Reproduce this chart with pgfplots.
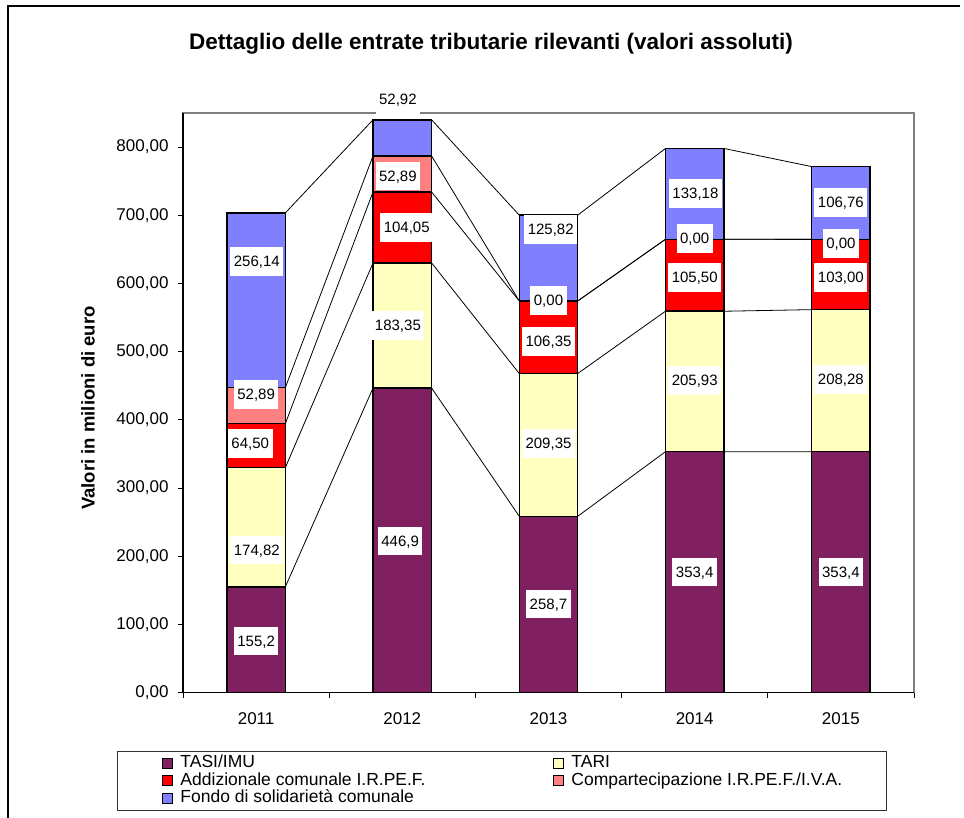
\documentclass[border=0pt]{standalone}
\usepackage{fontspec}
\setmainfont{Liberation Sans}
\usepackage{pgfplots}
\pgfplotsset{compat=1.18}
\definecolor{cTasi}{RGB}{128,32,96}
\definecolor{cTari}{RGB}{255,255,192}
\definecolor{cAdd}{RGB}{255,0,0}
\definecolor{cComp}{RGB}{255,128,128}
\definecolor{cFondo}{RGB}{128,128,255}
\definecolor{frameGray}{RGB}{128,128,128}
\pgfplotsset{
  base/.style={at={(183pt,-692.7pt)}, anchor=south west, scale only axis,
    width=731pt, height=579.7pt, xmin=-0.5, xmax=4.5, ymin=0, ymax=850},
}
\begin{document}
\begin{tikzpicture}
\path[use as bounding box] (0pt,0pt) rectangle (964pt,-818pt);
\draw[line width=1.5pt] (8pt,-818pt) -- (8pt,-6pt) -- (960pt,-6pt);
\node[font=\bfseries\fontsize{22.5}{26}\selectfont] at (491pt,-44pt) {Dettaglio delle entrate tributarie rilevanti (valori assoluti)};
\node[font=\bfseries\fontsize{18.5}{22}\selectfont, rotate=90] at (88pt,-408pt) {Valori in milioni di euro};

% series lines and grey frame
\begin{axis}[base, axis line style={draw=frameGray, line width=1.3pt},
  xtick=\empty, ytick=\empty, unbounded coords=jump]
\addplot[black, line width=0.8pt] coordinates {(0.2,155.2) (0.8,446.9) (1,nan) (1.2,446.9) (1.8,258.7) (2,nan) (2.2,258.7) (2.8,353.4) (3,nan) (3.2,353.4) (3.8,353.4)};
\addplot[black, line width=0.8pt] coordinates {(0.2,330.02) (0.8,630.25) (1,nan) (1.2,630.25) (1.8,468.05) (2,nan) (2.2,468.05) (2.8,559.33) (3,nan) (3.2,559.33) (3.8,561.68)};
\addplot[black, line width=0.8pt] coordinates {(0.2,394.52) (0.8,734.30) (1,nan) (1.2,734.30) (1.8,574.40) (2,nan) (2.2,574.40) (2.8,664.83) (3,nan) (3.2,664.83) (3.8,664.68)};
\addplot[black, line width=0.8pt] coordinates {(0.2,447.41) (0.8,787.19) (1,nan) (1.2,787.19) (1.8,574.40) (2,nan) (2.2,574.40) (2.8,664.83) (3,nan) (3.2,664.83) (3.8,664.68)};
\addplot[black, line width=0.8pt] coordinates {(0.2,703.55) (0.8,840.11) (1,nan) (1.2,840.11) (1.8,700.22) (2,nan) (2.2,700.22) (2.8,798.01) (3,nan) (3.2,798.01) (3.8,771.44)};
\end{axis}

% bars, axes, legend
\begin{axis}[base, ybar stacked, bar width=0.4,
  axis lines*=left, axis line style={line width=1.3pt},
  tick align=outside, major tick length=5pt,
  tick style={black, line width=1pt},
  ytick={0,100,...,800},
  scaled y ticks=false,
  /pgf/number format/fixed, /pgf/number format/fixed zerofill,
  /pgf/number format/precision=2, /pgf/number format/use comma,
  /pgf/number format/1000 sep={}, /pgf/number format/assume math mode=true,
  tick label style={font=\fontsize{17}{20}\selectfont},
  yticklabel style={xshift=-6pt},
  xtick={-0.5,0.5,...,4.5}, xticklabels={},
  extra x ticks={0,1,2,3,4},
  extra x tick labels={2011,2012,2013,2014,2015},
  extra x tick style={major tick length=0pt, xticklabel style={yshift=-16pt}},
  legend columns=2,
  legend cell align=left,
  legend image code/.code={\draw[#1, draw=black, line width=1pt] (0pt,-5pt) rectangle (10pt,5pt);},
  legend style={at={(-0.0903,-0.1006)}, anchor=north west, draw=black!80, line width=1pt,
    inner xsep=45pt, inner ysep=3pt, row sep=0pt, column sep=0pt,
    font=\fontsize{17.5}{20}\selectfont,
    nodes={inner xsep=7pt, inner ysep=1pt, text height=12pt, text depth=3.5pt}},
]
\addplot[fill=cTasi, draw=black, line width=1.5pt] coordinates {(0,155.2) (1,446.9) (2,258.7) (3,353.4) (4,353.4)};
\addplot[fill=cTari, draw=black, line width=1.5pt] coordinates {(0,174.82) (1,183.35) (2,209.35) (3,205.93) (4,208.28)};
\addplot[fill=cAdd, draw=black, line width=1.5pt] coordinates {(0,64.50) (1,104.05) (2,106.35) (3,105.50) (4,103.00)};
\addplot[fill=cComp, draw=black, line width=1.5pt] coordinates {(0,52.89) (1,52.89) (2,0) (3,0) (4,0)};
\addplot[fill=cFondo, draw=black, line width=1.5pt] coordinates {(0,256.14) (1,52.92) (2,125.82) (3,133.18) (4,106.76)};
\legend{\makebox[366pt][l]{TASI/IMU}, \makebox[263pt][l]{TARI},
  \makebox[366pt][l]{Addizionale comunale I.R.PE.F.}, \makebox[263pt][l]{Compartecipazione I.R.PE.F./I.V.A.},
  \makebox[366pt][l]{Fondo di solidarietà comunale}}
\end{axis}

% data labels
\begin{axis}[base, hide axis, clip=false]
\addplot[draw=none, mark=none, point meta=explicit symbolic,
  nodes near coords={\pgfplotspointmeta}, nodes near coords align={center},
  every node near coord/.append style={anchor=center, fill=white, text=black,
    font=\fontsize{15}{16}\selectfont, inner xsep=3.5pt, inner ysep=9pt,
    text height=10.5pt, text depth=0pt}]
coordinates {
(0,75.9) [155,2] (0.005,209.5) [174,82] (-0.04,365.2) [64,50] (0,437.1) [52,89] (0.005,632.5) [256,14]
(0.985,222.8) [446,9] (0.97,538.5) [183,35] (1.03,682.4) [104,05] (0.97,757.3) [52,89] (0.97,870) [52,92]
(2,130.2) [258,7] (2,365.2) [209,35] (2,515.0) [106,35] (2,575.2) [0,00] (2.015,679.4) [125,82]
(3,177.2) [353,4] (3,457.7) [205,93] (3,608.9) [105,50] (3,666.2) [0,00] (3.005,732.3) [133,18]
(4,177.2) [353,4] (4,459.2) [208,28] (4,608.9) [103,00] (4,658.9) [0,00] (4,719.1) [106,76]
};
\end{axis}
\end{tikzpicture}
\end{document}
